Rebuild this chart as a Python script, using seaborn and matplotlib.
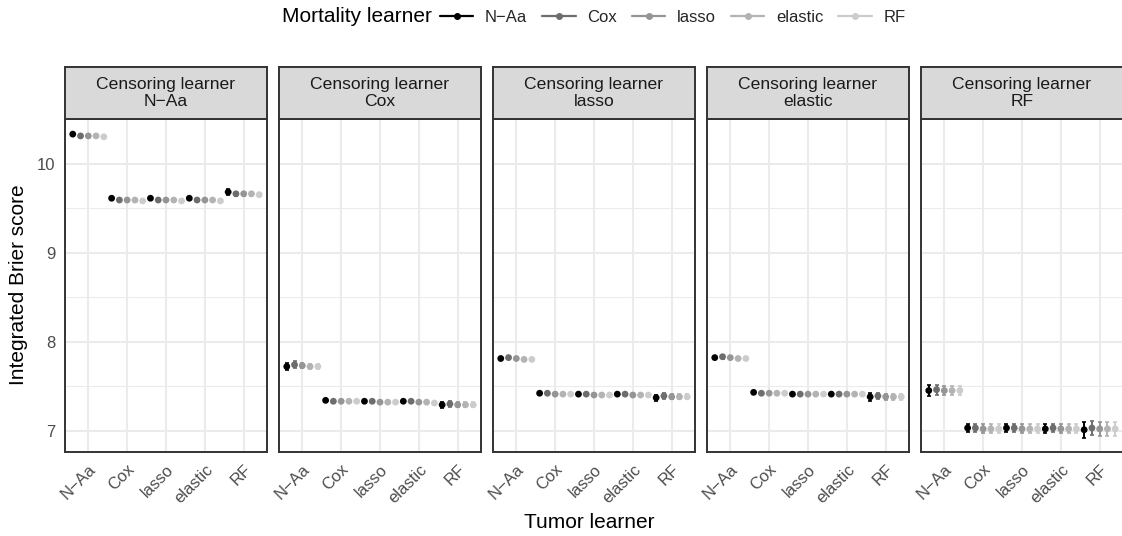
import numpy as np
import pandas as pd
import matplotlib
matplotlib.use("Agg")
import matplotlib.pyplot as plt
import seaborn as sns
from matplotlib.lines import Line2D

learners = ["N\u2212Aa", "Cox", "lasso", "elastic", "RF"]

# rows = tumor learner, cols = mortality learner
ibs_naa = [[10.33, 10.31, 10.31, 10.31, 10.30],
           [9.61, 9.59, 9.59, 9.59, 9.58],
           [9.61, 9.59, 9.59, 9.59, 9.58],
           [9.61, 9.59, 9.59, 9.59, 9.58],
           [9.68, 9.66, 9.66, 9.66, 9.65]]
ibs_cox = [[7.72, 7.74, 7.73, 7.72, 7.72],
           [7.34, 7.33, 7.33, 7.33, 7.33],
           [7.33, 7.33, 7.32, 7.32, 7.32],
           [7.33, 7.33, 7.32, 7.32, 7.31],
           [7.29, 7.30, 7.29, 7.29, 7.29]]
ibs_lasso = [[7.81, 7.82, 7.81, 7.80, 7.80],
             [7.42, 7.42, 7.41, 7.41, 7.41],
             [7.41, 7.41, 7.40, 7.40, 7.40],
             [7.41, 7.41, 7.40, 7.40, 7.40],
             [7.37, 7.39, 7.38, 7.38, 7.38]]
ibs_elastic = [[7.82, 7.83, 7.82, 7.81, 7.81],
               [7.43, 7.42, 7.42, 7.42, 7.42],
               [7.41, 7.41, 7.41, 7.41, 7.41],
               [7.41, 7.41, 7.41, 7.41, 7.41],
               [7.38, 7.39, 7.38, 7.38, 7.38]]
ibs_rf = [[7.45, 7.46, 7.45, 7.45, 7.45],
          [7.03, 7.03, 7.02, 7.02, 7.02],
          [7.03, 7.03, 7.02, 7.02, 7.02],
          [7.02, 7.03, 7.02, 7.02, 7.02],
          [7.01, 7.03, 7.02, 7.02, 7.02]]

err_naa = [[0.01, 0.01, 0.01, 0.01, 0.01],
           [0.01, 0.01, 0.01, 0.01, 0.01],
           [0.01, 0.01, 0.01, 0.01, 0.01],
           [0.01, 0.01, 0.01, 0.01, 0.01],
           [0.03, 0.02, 0.02, 0.02, 0.02]]
err_cox = [[0.04, 0.04, 0.03, 0.03, 0.03],
           [0.015, 0.015, 0.015, 0.015, 0.015],
           [0.015, 0.015, 0.015, 0.015, 0.015],
           [0.015, 0.015, 0.015, 0.015, 0.015],
           [0.035, 0.03, 0.03, 0.03, 0.03]]
err_lasso = [[0.02, 0.02, 0.02, 0.02, 0.02],
             [0.012, 0.012, 0.012, 0.012, 0.012],
             [0.012, 0.012, 0.012, 0.012, 0.012],
             [0.012, 0.012, 0.012, 0.012, 0.012],
             [0.035, 0.03, 0.03, 0.03, 0.03]]
err_elastic = [[0.02, 0.02, 0.02, 0.02, 0.02],
               [0.012, 0.012, 0.012, 0.012, 0.012],
               [0.012, 0.012, 0.012, 0.012, 0.012],
               [0.012, 0.012, 0.012, 0.012, 0.012],
               [0.045, 0.035, 0.035, 0.035, 0.035]]
err_rf = [[0.06, 0.055, 0.055, 0.055, 0.055],
          [0.05, 0.05, 0.05, 0.05, 0.05],
          [0.05, 0.05, 0.05, 0.05, 0.05],
          [0.05, 0.05, 0.05, 0.05, 0.05],
          [0.09, 0.08, 0.08, 0.08, 0.08]]

ibs_all = [ibs_naa, ibs_cox, ibs_lasso, ibs_elastic, ibs_rf]
err_all = [err_naa, err_cox, err_lasso, err_elastic, err_rf]

greys = ["#000000", "#6D6D6D", "#959595", "#B3B3B3", "#CCCCCC"]

# long table
rows = []
for c, cens in enumerate(learners):
    for t, tum in enumerate(learners):
        for m, mort in enumerate(learners):
            rows.append({"cens": cens, "tumor": tum, "mort": mort,
                         "x": t + (m - 2) * 0.2,
                         "ibs": ibs_all[c][t][m], "err": err_all[c][t][m]})
df = pd.DataFrame(rows)

sns.set_style("white")
plt.rcParams["font.family"] = ["Liberation Sans", "DejaVu Sans"]

W, H = 1122, 536
fig = plt.figure(figsize=(W / 100, H / 100), dpi=100)

panel_top, panel_bot = 119, 452
strip_top = 67
pw, gap, left0 = 202, 12, 65
dark = "#333333"

for c, cens in enumerate(learners):
    x0 = left0 + c * (pw + gap)
    ax = fig.add_axes([x0 / W, 1 - panel_bot / H, pw / W, (panel_bot - panel_top) / H])
    sub = df[df["cens"] == cens]

    ax.set_axisbelow(True)
    for m, mort in enumerate(learners):
        s = sub[sub["mort"] == mort]
        ax.errorbar(s["x"], s["ibs"], yerr=s["err"], fmt="none",
                    ecolor=greys[m], elinewidth=1.4, capsize=1.2, capthick=1.2, zorder=3)
    sns.scatterplot(data=sub, x="x", y="ibs", hue="mort", hue_order=learners,
                    palette=greys, s=24, linewidth=0, legend=False, ax=ax, zorder=4)

    ax.set_xlim(-0.6, 4.6)
    ax.set_ylim(6.76, 10.49)
    ax.set_xticks(range(5))
    ax.set_xticklabels(learners, rotation=45, ha="right", va="top",
                       rotation_mode="anchor", color="#4D4D4D", fontsize=12)
    ax.set_yticks([7, 8, 9, 10])
    ax.set_yticks([7.5, 8.5, 9.5, 10.5], minor=True)
    if c == 0:
        ax.set_yticklabels(["7", "8", "9", "10"], color="#4D4D4D", fontsize=12)
    else:
        ax.set_yticklabels([])
    ax.grid(True, which="major", color="#EBEBEB", linewidth=1.5)
    ax.grid(True, which="minor", axis="y", color="#EBEBEB", linewidth=0.75)
    ax.tick_params(axis="both", which="major", direction="out", length=4,
                   width=1.3, color=dark, pad=3)
    ax.tick_params(axis="y", which="minor", length=0)
    if c != 0:
        ax.tick_params(axis="y", which="major", length=0)
    ax.set_xlabel("")
    ax.set_ylabel("")
    for sp in ax.spines.values():
        sp.set_color(dark)
        sp.set_linewidth(1.4)

    # facet strip
    sax = fig.add_axes([x0 / W, 1 - panel_top / H, pw / W, (panel_top - strip_top) / H])
    sax.set_facecolor("#D9D9D9")
    sax.set_xticks([])
    sax.set_yticks([])
    for sp in sax.spines.values():
        sp.set_color(dark)
        sp.set_linewidth(1.4)
    sax.text(0.5, 0.5, "Censoring learner\n" + cens, ha="center", va="center",
             fontsize=12.6, color="#1A1A1A", linespacing=1.1, transform=sax.transAxes)

fig.text(18 / W, 1 - 285 / H, "Integrated Brier score", rotation=90,
         ha="center", va="center", fontsize=15, color="black")
fig.text(589 / W, 1 - 522 / H, "Tumor learner", ha="center", va="center",
         fontsize=15, color="black")

# legend
fig.text(432 / W, 1 - 17 / H, "Mortality learner", ha="right", va="center",
         fontsize=15, color="black")
handles = [Line2D([0], [0], color=g, linewidth=1.6, marker="o", markersize=4)
           for g in greys]
fig.legend(handles, learners, loc="center left", bbox_to_anchor=(440 / W, 1 - 17 / H),
           ncol=5, frameon=False, fontsize=12, handlelength=2.0,
           handletextpad=0.7, columnspacing=0.9, borderaxespad=0, borderpad=0)

fig.savefig("out.png", dpi=100)
